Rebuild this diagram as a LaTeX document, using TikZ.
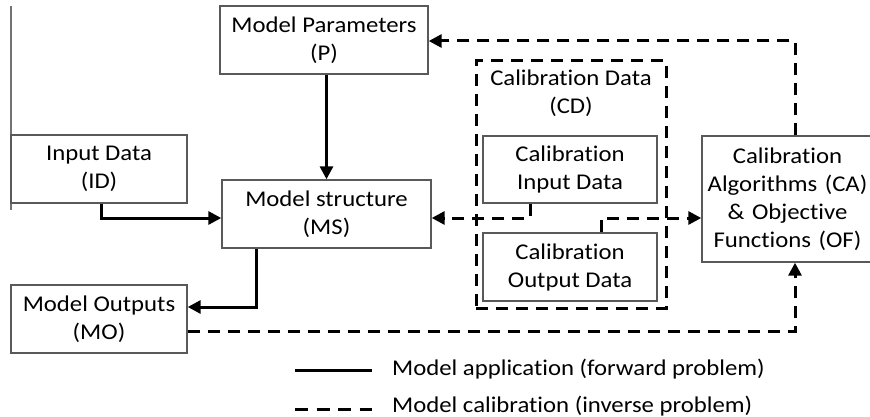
\documentclass[tikz,border=0pt]{standalone}
\usepackage{fontspec}
\setmainfont[FakeStretch=1.1,RawFeature=-liga]{Carlito}
\usetikzlibrary{arrows.meta}
\begin{document}
\begin{tikzpicture}[x=1pt,y=-1pt,
  every node/.style={font=\fontsize{22.5}{28}\selectfont, text=black},
  box/.style={draw=black!65, line width=1.4pt, align=center, inner sep=0pt},
  fwd/.style={line width=3pt, -{Triangle[length=13pt,width=13pt]}},
  inv/.style={line width=3pt, dash pattern=on 12pt off 8pt, -{Triangle[length=13pt,width=13pt]}},
  fwdline/.style={line width=3pt},
  invline/.style={line width=3pt, dash pattern=on 12pt off 8pt}]
\useasboundingbox (0,0) rectangle (870,417);
\clip (0,0) rectangle (870,417);
% stray left line
\draw[black!55, line width=1.4pt] (11,6) -- (11,210);
% boxes
\node[box, minimum width=208pt, minimum height=68pt] (P) at (324,40) {Model Parameters\\(P)};
\node[box, minimum width=176pt, minimum height=68pt] (ID) at (99,169) {Input Data\\(ID)};
\node[box, minimum width=209pt, minimum height=68pt] (MS) at (326.5,214) {Model structure\\(MS)};
\node[box, minimum width=176pt, minimum height=68pt] (MO) at (99,319) {Model Outputs\\(MO)};
\node[draw, line width=3pt, dash pattern=on 12pt off 8pt, minimum width=190pt, minimum height=247pt, inner sep=0pt] (CD) at (571,184.5) {};
\node[align=center] (CDL) at (571,93) {Calibration Data\\(CD)};
\node[box, minimum width=174pt, minimum height=67pt] (CID) at (570,169.5) {Calibration\\Input Data};
\node[box, minimum width=174pt, minimum height=68pt] (COD) at (570,267) {Calibration\\Output Data};
\node[box, minimum width=171pt, minimum height=126pt, text width=171pt] (CA) at (787.5,199) {Calibration\\Algorithms (CA)\\\&~Objective\\Functions (OF)};
% helper coordinates
\coordinate (idx) at (101,0);
\coordinate (y218) at (0,218);
\coordinate (msx) at (256,0);
\coordinate (y307) at (0,307);
\coordinate (y331) at (0,331);
\coordinate (cax) at (795,0);
\coordinate (y41) at (0,41);
\coordinate (cidx) at (530,0);
\coordinate (codx) at (601,0);
% forward connectors
\draw[fwd] (P.south -| MS.north) -- (MS.north);
\draw[fwd] (ID.south -| idx) |- (MS.west |- y218);
\draw[fwd] (MS.south -| msx) |- (MO.east |- y307);
% inverse connectors
\draw[inv] (MO.east |- y331) -| (CA.south -| cax);
\draw[inv] (CA.north -| cax) |- (P.east |- y41);
\draw[inv] (CID.south -| cidx) |- (MS.east |- y218);
\draw[inv] (COD.north -| codx) |- (CA.west |- y218);
% legend
\coordinate (l1a) at (295,370);
\coordinate (l1b) at (372,370);
\coordinate (l2a) at (295,409);
\coordinate (l2b) at (372,409);
\draw[fwdline] (l1a) -- (l1b);
\draw[invline, dash pattern=on 13pt off 8.5pt] (l2a) -- (l2b);
\node[anchor=west, inner sep=0pt] (L1) at (392,369) {Model application (forward problem)};
\node[anchor=west, inner sep=0pt] (L2) at (392,406) {Model calibration (inverse problem)};
\end{tikzpicture}
\end{document}
